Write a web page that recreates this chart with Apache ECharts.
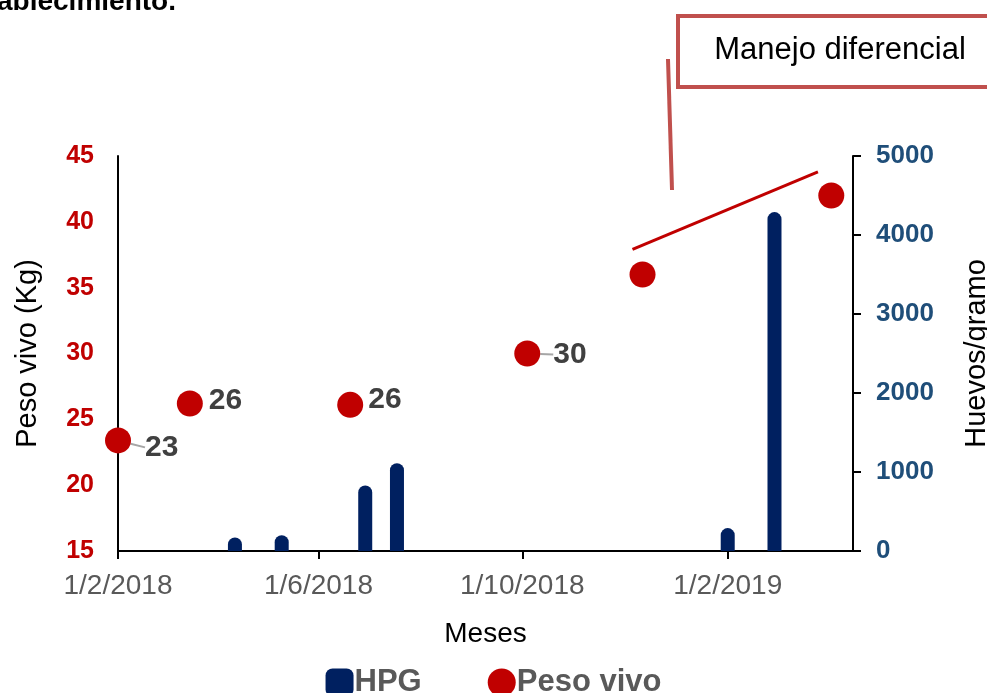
<!DOCTYPE html>
<html>
<head>
<meta charset="utf-8">
<script src="https://cdn.jsdelivr.net/npm/echarts@6/dist/echarts.min.js"></script>
<style>
  html, body { margin: 0; padding: 0; background: #fff; }
  #chart { width: 987px; height: 693px; }
</style>
</head>
<body>
<div id="chart"></div>
<script>
// datos
const tickDates = ['2018-02-01', '2018-06-01', '2018-10-01', '2019-02-01']
const tickLabels = ['1/2/2018', '1/6/2018', '1/10/2018', '1/2/2019']

const hpgDates = ['2018-04-12', '2018-05-10', '2018-06-29', '2018-07-18', '2019-02-01', '2019-03-01']
const hpgValues = [170, 200, 830, 1110, 290, 4290]

const pesoDates = ['2018-02-01', '2018-03-16', '2018-06-20', '2018-10-04', '2018-12-12', '2019-04-04']
const pesoValues = [23.4, 26.2, 26.1, 30, 36, 42]
const pesoLabels = ['23', '26', '26', '30', '', '']

// linea de tendencia (manejo diferencial)
const trendDates = ['2018-12-06', '2019-03-27']
const trendValues = [37.9, 43.8]

const FONT = 'Liberation Sans, Arial, sans-serif'

//fecha -> numero de dias desde 1/1/2018
function ts(s) {
    const p = s.split('-').map(Number)
    return Math.round((Date.UTC(p[0], p[1] - 1, p[2]) - Date.UTC(2018, 0, 1)) / 86400000)
}

const tickTs = tickDates.map(ts)
// ajustes de posicion de etiquetas [dx, dy], solo 23 y 30 llevan linea guia
const labelShift = [[8, 7], [0, -3], [-1, -5], [7, 1]]
const leaderLine = [true, false, false, true, false, false]

const chart = echarts.init(document.getElementById('chart'))

const option = {
    animation: false,
    grid: {left: 118, right: 134, top: 156, bottom: 142, containLabel: false, outerBoundsMode: 'none'},
    legend: {
        top: 662,
        left: 'center',
        itemWidth: 28,
        itemHeight: 28,
        itemGap: 66,
        textStyle: {fontFamily: FONT, fontSize: 31, fontWeight: 'bold', color: '#595959', padding: [0, 0, 0, -4]},
        data: [
            {name: 'HPG', icon: 'roundRect'},
            {name: 'Peso vivo', icon: 'circle'}
        ]
    },
    xAxis: {
        type: 'value',
        min: ts('2018-02-01'),
        max: ts('2019-04-17'),
        name: 'Meses',
        nameLocation: 'middle',
        nameGap: 69,
        nameTextStyle: {fontFamily: FONT, fontSize: 28, color: '#000'},
        axisLine: {onZero: false, lineStyle: {color: '#000', width: 2}},
        axisTick: {show: true, length: 8, lineStyle: {color: '#000', width: 2}, customValues: tickTs},
        axisLabel: {
            customValues: tickTs,
            margin: 21,
            fontFamily: FONT,
            fontSize: 28,
            color: '#595959',
            formatter: (v) => {
                const i = tickTs.indexOf(v)
                return i >= 0 ? tickLabels[i] : ''
            }
        },
        splitLine: {show: false}
    },
    yAxis: [
        {
            type: 'value',
            min: 15,
            max: 45,
            interval: 5,
            name: 'Peso vivo (Kg)',
            nameLocation: 'middle',
            nameRotate: 90,
            nameGap: 76,
            nameTextStyle: {fontFamily: FONT, fontSize: 29, color: '#000'},
            axisLine: {show: true, lineStyle: {color: '#000', width: 2}},
            axisTick: {show: false},
            axisLabel: {margin: 24, fontFamily: FONT, fontSize: 25, fontWeight: 'bold', color: '#C00000'},
            splitLine: {show: false}
        },
        {
            type: 'value',
            min: 0,
            max: 5000,
            interval: 1000,
            position: 'right',
            name: 'Huevos/gramo',
            nameLocation: 'middle',
            nameRotate: 90,
            nameGap: 109,
            nameTextStyle: {fontFamily: FONT, fontSize: 29, color: '#000', padding: [0, 0, 12, 0]},
            axisLine: {show: true, lineStyle: {color: '#000', width: 2}},
            axisTick: {show: true, length: 8, lineStyle: {color: '#000', width: 2}},
            axisLabel: {
                margin: 23,
                fontFamily: FONT,
                fontSize: 26,
                fontWeight: 'bold',
                color: '#1F4E79',
                formatter: (v) => String(v)
            },
            splitLine: {show: false}
        }
    ],
    series: [
        {
            name: 'HPG',
            type: 'bar',
            yAxisIndex: 1,
            barWidth: 14,
            itemStyle: {color: '#002060', borderRadius: [7, 7, 0, 0]},
            data: hpgDates.map((d, i) => [ts(d), hpgValues[i]])
        },
        {
            name: 'Peso vivo',
            type: 'scatter',
            yAxisIndex: 0,
            symbolSize: 26,
            clip: false,
            z: 4,
            itemStyle: {color: '#C00000', opacity: 1},
            label: {
                show: true,
                position: 'right',
                distance: 6,
                fontFamily: FONT,
                fontSize: 30,
                fontWeight: 'bold',
                color: '#404040',
                formatter: (p) => pesoLabels[p.dataIndex]
            },
            labelLine: {show: true, lineStyle: {color: '#A6A6A6', width: 2}},
            labelLayout: (p) => {
                const s = labelShift[p.dataIndex]
                return s ? {dx: s[0], dy: s[1]} : {}
            },
            data: pesoDates.map((d, i) => ({
                value: [ts(d), pesoValues[i]],
                label: {show: pesoLabels[i] !== ''},
                labelLine: {show: leaderLine[i]}
            }))
        },
        {
            name: 'Tendencia',
            type: 'line',
            yAxisIndex: 0,
            symbol: 'none',
            z: 3,
            lineStyle: {color: '#C00000', width: 3},
            data: trendDates.map((d, i) => [ts(d), trendValues[i]])
        }
    ],
    graphic: [
        {
            type: 'text',
            left: -3,
            top: -12,
            style: {text: 'ablecimiento.', font: 'bold 28px ' + FONT, fill: '#000'}
        },
        {
            type: 'line',
            shape: {x1: 668, y1: 59, x2: 672, y2: 190},
            style: {stroke: '#C0504D', lineWidth: 4}
        },
        {
            type: 'rect',
            shape: {x: 678, y: 16, width: 330, height: 71},
            style: {fill: '#fff', stroke: '#C0504D', lineWidth: 4}
        },
        {
            type: 'text',
            x: 840,
            y: 50,
            style: {
                text: 'Manejo diferencial',
                font: '31px ' + FONT,
                fill: '#000',
                align: 'center',
                verticalAlign: 'middle'
            }
        }
    ]
}

chart.setOption(option)
</script>
</body>
</html>
